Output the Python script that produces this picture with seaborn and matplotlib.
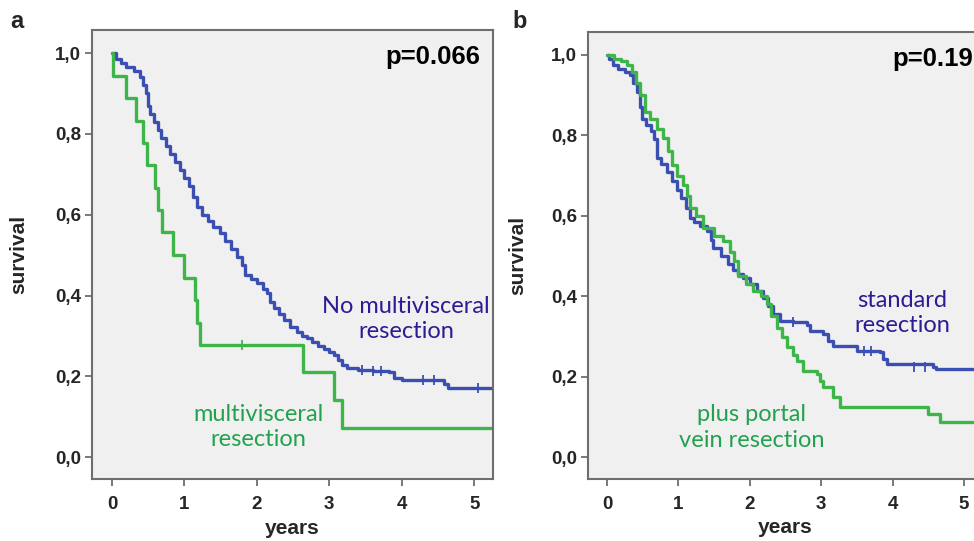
import numpy as np
import pandas as pd
import matplotlib
matplotlib.use("Agg")
import matplotlib.pyplot as plt
import seaborn as sns

# ---- data (Kaplan-Meier steps) ----
# panel a: no multivisceral resection
a_std_t = [0, 0.05, 0.12, 0.2, 0.3, 0.38, 0.43, 0.47, 0.5, 0.52, 0.58, 0.64, 0.68, 0.74,
           0.8, 0.87, 0.94, 1.0, 1.06, 1.12, 1.17, 1.24, 1.32, 1.4, 1.49, 1.56, 1.64,
           1.72, 1.8, 1.84, 1.92, 2.0, 2.08, 2.14, 2.18, 2.24, 2.3, 2.38, 2.46, 2.55,
           2.62, 2.69, 2.76, 2.84, 2.92, 3.0, 3.06, 3.12, 3.18, 3.24, 3.4, 3.6, 3.82,
           3.9, 4.0, 4.53, 4.58, 4.64, 5.3]
a_std_s = [1.0, 0.985, 0.975, 0.965, 0.955, 0.94, 0.92, 0.90, 0.87, 0.85, 0.83, 0.81, 0.79,
           0.77, 0.75, 0.73, 0.71, 0.69, 0.67, 0.645, 0.62, 0.60, 0.585, 0.57, 0.555,
           0.535, 0.515, 0.495, 0.475, 0.45, 0.44, 0.43, 0.415, 0.405, 0.385, 0.37,
           0.355, 0.34, 0.322, 0.31, 0.30, 0.295, 0.285, 0.275, 0.268, 0.26, 0.252,
           0.24, 0.228, 0.22, 0.215, 0.213, 0.21, 0.197, 0.192, 0.19, 0.18, 0.172, 0.172]
# panel a: multivisceral resection
a_mv_t = [0, 0.02, 0.19, 0.33, 0.43, 0.48, 0.59, 0.63, 0.69, 0.84, 0.99, 1.14, 1.18,
          1.21, 2.64, 3.06, 3.17, 5.3]
a_mv_s = [1.0, 0.944, 0.889, 0.833, 0.778, 0.722, 0.667, 0.611, 0.556, 0.5, 0.444,
          0.389, 0.333, 0.278, 0.211, 0.141, 0.071, 0.071]
# panel b: standard resection
b_std_t = [0, 0.03, 0.08, 0.15, 0.25, 0.32, 0.37, 0.42, 0.46, 0.49, 0.55, 0.62, 0.66,
           0.70, 0.76, 0.84, 0.91, 0.98, 1.04, 1.1, 1.16, 1.22, 1.3, 1.4, 1.45, 1.49,
           1.6, 1.7, 1.77, 1.84, 1.91, 2.0, 2.1, 2.19, 2.26, 2.33, 2.42, 2.6, 2.8, 2.84,
           3.03, 3.1, 3.17, 3.5, 3.82, 3.86, 3.92, 4.57, 4.6, 5.3]
b_std_s = [1.0, 0.99, 0.975, 0.965, 0.958, 0.95, 0.93, 0.908, 0.87, 0.842, 0.825, 0.81,
           0.79, 0.745, 0.73, 0.71, 0.686, 0.665, 0.645, 0.62, 0.595, 0.585, 0.575,
           0.562, 0.54, 0.52, 0.50, 0.48, 0.465, 0.455, 0.446, 0.43, 0.413, 0.397,
           0.375, 0.356, 0.339, 0.335, 0.33, 0.314, 0.306, 0.29, 0.277, 0.265, 0.261,
           0.245, 0.232, 0.224, 0.22, 0.22]
# panel b: plus portal vein resection
b_pv_t = [0, 0.1, 0.2, 0.28, 0.35, 0.4, 0.46, 0.53, 0.6, 0.7, 0.79, 0.85, 0.91, 0.98,
          1.07, 1.12, 1.16, 1.25, 1.35, 1.5, 1.63, 1.72, 1.78, 1.84, 1.95, 2.05, 2.15,
          2.24, 2.3, 2.38, 2.45, 2.52, 2.6, 2.66, 2.75, 2.94, 2.98, 3.03, 3.17, 3.26,
          4.50, 4.66, 5.3]
b_pv_s = [1.0, 0.99, 0.985, 0.975, 0.958, 0.93, 0.90, 0.859, 0.84, 0.815, 0.793, 0.76,
          0.727, 0.70, 0.677, 0.65, 0.62, 0.60, 0.57, 0.55, 0.537, 0.51, 0.488, 0.45,
          0.43, 0.413, 0.40, 0.38, 0.35, 0.322, 0.30, 0.273, 0.255, 0.24, 0.215, 0.207,
          0.19, 0.174, 0.149, 0.125, 0.108, 0.087, 0.087]

# censoring marks
a_std_cens_t = [3.45, 3.6, 3.72, 4.3, 4.45, 5.05]
a_std_cens_s = [0.215, 0.213, 0.213, 0.19, 0.19, 0.172]
a_mv_cens_t = [1.8]
a_mv_cens_s = [0.278]
b_std_cens_t = [2.6, 3.6, 3.7, 4.3, 4.45, 5.15]
b_std_cens_s = [0.335, 0.265, 0.265, 0.224, 0.224, 0.22]

ytick_vals = [0.0, 0.2, 0.4, 0.6, 0.8, 1.0]
ytick_labels = ["0,0", "0,2", "0,4", "0,6", "0,8", "1,0"]
xtick_vals = [0, 1, 2, 3, 4, 5]

BLUE = "#3B4FB2"
GREEN = "#3DB549"
BLUE_TXT = "#2B1C93"
GREEN_TXT = "#22A24E"
FRAME = "#6E6E6E"

sns.set_style("white")
plt.rcParams["font.family"] = ["Liberation Sans", "DejaVu Sans"]

fig = plt.figure(figsize=(9.74, 5.41), dpi=100)
ax_a = fig.add_axes([92 / 974, 1 - 479 / 541, 401 / 974, 449 / 541])
ax_b = fig.add_axes([588 / 974, 1 - 479 / 541, 395 / 974, 447 / 541])


def km(ax, t, s, color):
    df = pd.DataFrame({"t": t, "s": s})
    sns.lineplot(data=df, x="t", y="s", ax=ax, color=color, lw=2.4,
                 drawstyle="steps-post", estimator=None, sort=False)


def cens(ax, t, s, color):
    df = pd.DataFrame({"t": t, "s": s})
    sns.scatterplot(data=df, x="t", y="s", ax=ax, color=color, marker="|",
                    s=45, linewidth=1.3, zorder=3)


def style(ax, xlim):
    ax.set_facecolor("#F0F0F0")
    ax.set_xlim(*xlim)
    ax.set_ylim(-0.054, 1.057)
    ax.set_yticks(ytick_vals)
    ax.set_yticklabels(ytick_labels)
    ax.set_xticks(xtick_vals)
    ax.set_xticklabels([str(v) for v in xtick_vals])
    for sp in ax.spines.values():
        sp.set_visible(True)
        sp.set_color(FRAME)
        sp.set_linewidth(1.5)
    ax.tick_params(axis="both", direction="out", length=5, width=1.3, color=FRAME,
                   labelsize=13.5, pad=3, bottom=True, left=True)
    ax.tick_params(axis="x", pad=7)
    for lab in ax.get_xticklabels() + ax.get_yticklabels():
        lab.set_fontweight("bold")
    ax.set_xlabel("years", fontsize=15, fontweight="bold")
    ax.set_ylabel("survival", fontsize=15, fontweight="bold")
    ax.xaxis.set_label_coords(0.5, -0.088)


# panel a
km(ax_a, a_std_t, a_std_s, BLUE)
km(ax_a, a_mv_t, a_mv_s, GREEN)
cens(ax_a, a_std_cens_t, a_std_cens_s, BLUE)
cens(ax_a, a_mv_cens_t, a_mv_cens_s, GREEN)
style(ax_a, (-0.276, 5.26))
ax_a.yaxis.set_label_coords(-0.16, 0.5)
ax_a.text(5.08, 0.99, "p=0.066", ha="right", va="center", fontsize=18.5,
          fontweight="bold", color="black")
ax_a.text(4.06, 0.342, "No multivisceral\nresection", ha="center", va="center",
          fontsize=17, color=BLUE_TXT, family="Lato", linespacing=1.25)
ax_a.text(2.02, 0.074, "multivisceral\nresection", ha="center", va="center",
          fontsize=17, color=GREEN_TXT, family="Lato", linespacing=1.25)

# panel b
km(ax_b, b_std_t, b_std_s, BLUE)
km(ax_b, b_pv_t, b_pv_s, GREEN)
cens(ax_b, b_std_cens_t, b_std_cens_s, BLUE)
style(ax_b, (-0.266, 5.265))
ax_b.yaxis.set_label_coords(-0.154, 0.5)
ax_b.text(4.0, 0.99, "p=0.19", ha="left", va="center", fontsize=18.5,
          fontweight="bold", color="black")
ax_b.text(4.13, 0.359, "standard\nresection", ha="center", va="center",
          fontsize=17, color=BLUE_TXT, family="Lato", linespacing=1.25)
ax_b.text(2.03, 0.074, "plus portal\nvein resection", ha="center", va="center",
          fontsize=17, color=GREEN_TXT, family="Lato", linespacing=1.25)

fig.text(10 / 974, 1 - 21 / 541, "a", fontsize=17, fontweight="bold", va="center")
fig.text(512 / 974, 1 - 21 / 541, "b", fontsize=17, fontweight="bold", va="center")

fig.savefig("out.png", dpi=100)
